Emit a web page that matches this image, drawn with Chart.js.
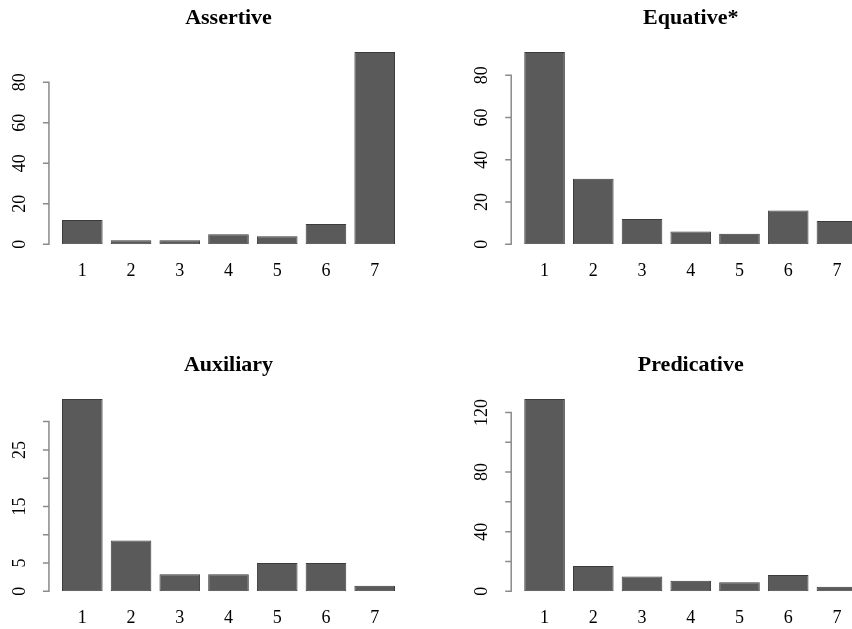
<!DOCTYPE html>
<html>
<head>
<meta charset="utf-8">
<script src="https://cdn.jsdelivr.net/npm/chart.js@4/dist/chart.umd.min.js"></script>
<style>
  html, body { margin: 0; padding: 0; background: #ffffff; overflow: hidden; width: 852px; height: 629px; }
  .panel { position: absolute; }
</style>
</head>
<body>
<div class="panel" style="left:0px;top:0px;width:426px;height:300px"><canvas id="c1"></canvas></div>
<div class="panel" style="left:426px;top:0px;width:440px;height:300px"><canvas id="c2"></canvas></div>
<div class="panel" style="left:0px;top:347.4px;width:426px;height:300px"><canvas id="c3"></canvas></div>
<div class="panel" style="left:426px;top:347.4px;width:440px;height:300px"><canvas id="c4"></canvas></div>
<script>
// ---- data ----
const categories = ['1', '2', '3', '4', '5', '6', '7'];

const assertiveValues   = [12, 2, 2, 5, 4, 10, 95];
const equativeValues    = [91, 31, 12, 6, 5, 16, 11];
const auxiliaryValues   = [34, 9, 3, 3, 5, 5, 1];
const predicativeValues = [129, 17, 10, 7, 6, 11, 3];

const titles = ['Assertive', 'Equative*', 'Auxiliary', 'Predicative'];

const assertiveTicks    = [0, 20, 40, 60, 80];
const assertiveLabels   = [0, 20, 40, 60, 80];
const equativeTicks     = [0, 20, 40, 60, 80];
const equativeLabels    = [0, 20, 40, 60, 80];
const auxiliaryTicks    = [0, 5, 10, 15, 20, 25, 30];
const auxiliaryLabels   = [0, 5, 15, 25];
const predicativeTicks  = [0, 20, 40, 60, 80, 100, 120];
const predicativeLabels = [0, 40, 80, 120];

// ---- styling ----
const SERIF = '"Liberation Serif", "Times New Roman", serif';
const BAR_FILL = '#5a5a5a';
const BAR_EDGE = '#3c3c3c';
const AXIS_COLOR = '#8a8a8a';
const TICK_FONT = 18;
const TITLE_FONT = 22;

// R-style y axis: line from first to last tick, outward ticks, rotated labels
const rAxisPlugin = {
  id: 'rAxis',
  afterDraw(chart, args, opts) {
    const ys = chart.scales.y;
    const ctx = chart.ctx;
    const ax = chart.chartArea.left - opts.gap;
    const t = opts.ticks;
    ctx.save();
    ctx.strokeStyle = AXIS_COLOR;
    ctx.lineWidth = 1.5;
    ctx.beginPath();
    ctx.moveTo(ax, ys.getPixelForValue(t[0]) + 0.7);
    ctx.lineTo(ax, ys.getPixelForValue(t[t.length - 1]) - 0.7);
    t.forEach(v => {
      const py = ys.getPixelForValue(v);
      ctx.moveTo(ax + 0.7, py);
      ctx.lineTo(ax - opts.tickLen, py);
    });
    ctx.stroke();
    ctx.fillStyle = '#000000';
    ctx.font = opts.fontSize + 'px ' + SERIF;
    ctx.textAlign = 'center';
    ctx.textBaseline = 'middle';
    opts.labels.forEach(v => {
      const py = ys.getPixelForValue(v);
      ctx.save();
      ctx.translate(ax - opts.labelOffset, py);
      ctx.rotate(-Math.PI / 2);
      ctx.fillText(String(v), 0, 0);
      ctx.restore();
    });
    ctx.restore();
  }
};

function makeChart(id, title, values, ticks, labels, pad) {
  const yMax = Math.max(...values) * 1.04;
  return new Chart(document.getElementById(id), {
    type: 'bar',
    data: {
      labels: categories,
      datasets: [{
        data: values,
        backgroundColor: BAR_FILL,
        borderColor: BAR_EDGE,
        borderWidth: 1,
        borderSkipped: false,
        barPercentage: 1.0,
        categoryPercentage: 1 / 1.2
      }]
    },
    options: {
      responsive: true,
      maintainAspectRatio: false,
      animation: false,
      events: [],
      layout: { padding: { left: pad.left, right: pad.right, top: 0, bottom: 15.7 } },
      scales: {
        x: {
          grid: { display: false, drawTicks: false },
          border: { display: false },
          ticks: {
            color: '#000000',
            font: { family: SERIF, size: TICK_FONT },
            padding: 15.8,
            maxRotation: 0,
            autoSkip: false
          },
          afterFit(s) { s.height = 40; }
        },
        y: {
          display: false,
          min: 0,
          max: yMax
        }
      },
      plugins: {
        legend: { display: false },
        tooltip: { enabled: false },
        title: {
          display: true,
          text: title,
          color: '#000000',
          font: { family: SERIF, size: TITLE_FONT, weight: 'bold', lineHeight: 1.2 },
          padding: { top: 4.8, bottom: 13.1 }
        },
        rAxis: { gap: 9, tickLen: 6, labelOffset: 28.5, fontSize: TICK_FONT, ticks: ticks, labels: labels }
      }
    },
    plugins: [rAxisPlugin]
  });
}

const padLeftCol  = { left: 57.94, right: 26.94 };
const padRightCol = { left: 94.2, right: 4.7 };

makeChart('c1', titles[0], assertiveValues, assertiveTicks, assertiveLabels, padLeftCol);
makeChart('c2', titles[1], equativeValues, equativeTicks, equativeLabels, padRightCol);
makeChart('c3', titles[2], auxiliaryValues, auxiliaryTicks, auxiliaryLabels, padLeftCol);
makeChart('c4', titles[3], predicativeValues, predicativeTicks, predicativeLabels, padRightCol);
</script>
</body>
</html>
